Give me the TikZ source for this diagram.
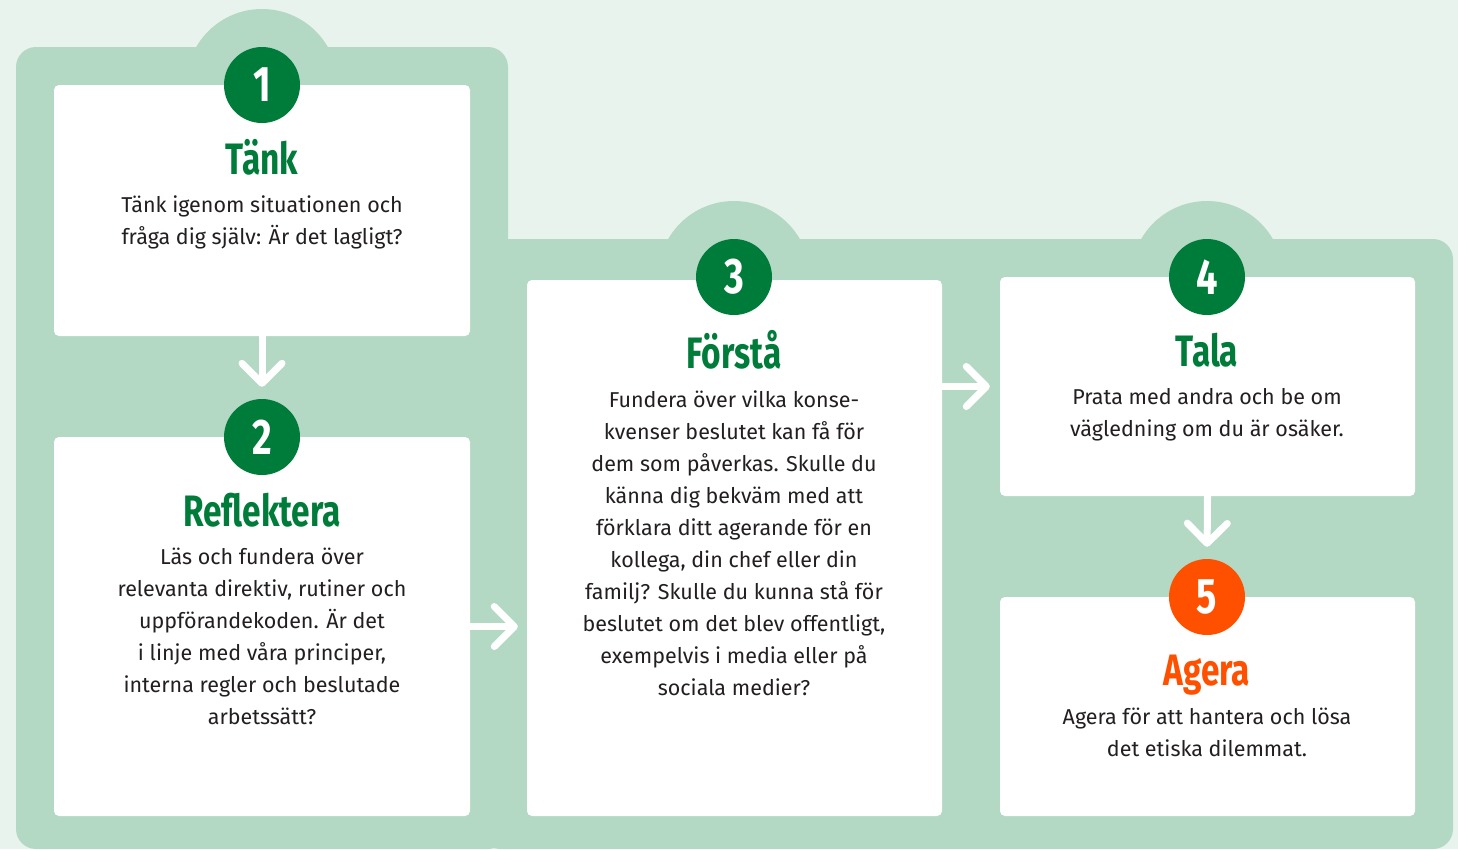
\documentclass[tikz,border=0pt]{standalone}
\usepackage{fontspec}
\usepackage{xcolor}
\usepackage{tikz}
\setmainfont{Fira Sans}
\newfontfamily\headfont[FakeStretch=0.76]{Fira Sans}
\definecolor{palegreen}{RGB}{232, 243, 237}
\definecolor{midgreen}{RGB}{179, 217, 197}
\definecolor{darkgreen}{RGB}{0, 124, 58}
\definecolor{signalorange}{RGB}{255, 80, 0}
\definecolor{textgray}{RGB}{35, 31, 32}
\usetikzlibrary{arrows.meta, positioning, calc}

\begin{document}
\begin{tikzpicture}[
    x=1pt, y=-1pt,
    card/.style={rectangle, fill=white, rounded corners=5pt, minimum width=416pt, inner sep=0pt},
    badge/.style={circle, fill=darkgreen, minimum size=76pt, inner sep=0pt, text=white,
                  font=\headfont\bfseries\fontsize{50}{50}\selectfont},
    heading/.style={anchor=base, inner sep=0pt, text=darkgreen,
                  font=\headfont\bfseries\fontsize{44}{44}\selectfont},
    body/.style={anchor=base, inner sep=0pt, align=center, text=textgray,
                  font=\fontsize{21.5}{32}\selectfont},
    flow/.style={white, line width=7pt, line cap=round,
                  -{Straight Barb[round, length=20pt, width=40pt]}}
]
    % Background
    \fill[palegreen] (0,0) rectangle (1458,849);
    \useasboundingbox (0,0) rectangle (1458,849);

    % Green band with bumps
    \fill[midgreen, rounded corners=20pt] (16,47) rectangle (508,849);
    \fill[midgreen, rounded corners=20pt] (480,239) rectangle (1453,849);
    \fill[midgreen] (262,85) circle[radius=76];
    \fill[midgreen] (734,277) circle[radius=76];
    \fill[midgreen] (1207,277) circle[radius=76];

    % Cards
    \node[card, minimum height=251pt] (tank) at (262,210.5) {};
    \node[card, minimum height=379pt] (reflektera) at (262,626.5) {};
    \node[card, minimum height=536pt, minimum width=415pt] (forsta) at (734.5,548) {};
    \node[card, minimum height=219pt, minimum width=415pt] (tala) at (1207.5,386.5) {};
    \node[card, minimum height=219pt, minimum width=415pt] (agera) at (1207.5,706.5) {};

    % Step badges
    \node[badge] (n1) at (262,85) {1};
    \node[badge] (n2) at (262,437) {2};
    \node[badge] (n3) at (734,277) {3};
    \node[badge] (n4) at (1207,277) {4};
    \node[badge, fill=signalorange] (n5) at (1207,597) {5};

    % Step 1 (body text sits on its last baseline)
    \node[heading] (h1) at (262,174) {Tänk};
    \node[body] (t1) at (262,244) {Tänk igenom situationen och\\fråga dig själv: Är det lagligt?};

    % Step 2
    \node[heading] (h2) at (262,526) {Reflektera};
    \node[body] (t2) at (262,724) {Läs och fundera över\\relevanta direktiv, rutiner och\\uppförandekoden. Är det\\i linje med våra principer,\\interna regler och beslutade\\arbetssätt?};

    % Step 3
    \node[heading] (h3) at (734,368) {Förstå};
    \node[body] (t3) at (734,695) {Fundera över vilka konse-\\kvenser beslutet kan få för\\dem som påverkas. Skulle du\\känna dig bekväm med att\\förklara ditt agerande för en\\kollega, din chef eller din\\familj? Skulle du kunna stå för\\beslutet om det blev offentligt,\\exempelvis i media eller på\\sociala medier?};

    % Step 4
    \node[heading] (h4) at (1207,366) {Tala};
    \node[body] (t4) at (1207,436) {Prata med andra och be om\\vägledning om du är osäker.};

    % Step 5
    \node[heading, text=signalorange] (h5) at (1207,685) {Agera};
    \node[body] (t5) at (1207,756) {Agera för att hantera och lösa\\det etiska dilemmat.};

    % Arrows
    \draw[flow, shorten >=12pt] (tank.south) -- (n2.north);
    \draw[flow, shorten >=9pt] (reflektera.east) -- (reflektera.east -| forsta.west);
    \draw[flow, shorten >=10pt] (tala.west -| forsta.east) -- (tala.west);
    \draw[flow, shorten >=12pt] (tala.south) -- (n5.north);
\end{tikzpicture}
\end{document}
